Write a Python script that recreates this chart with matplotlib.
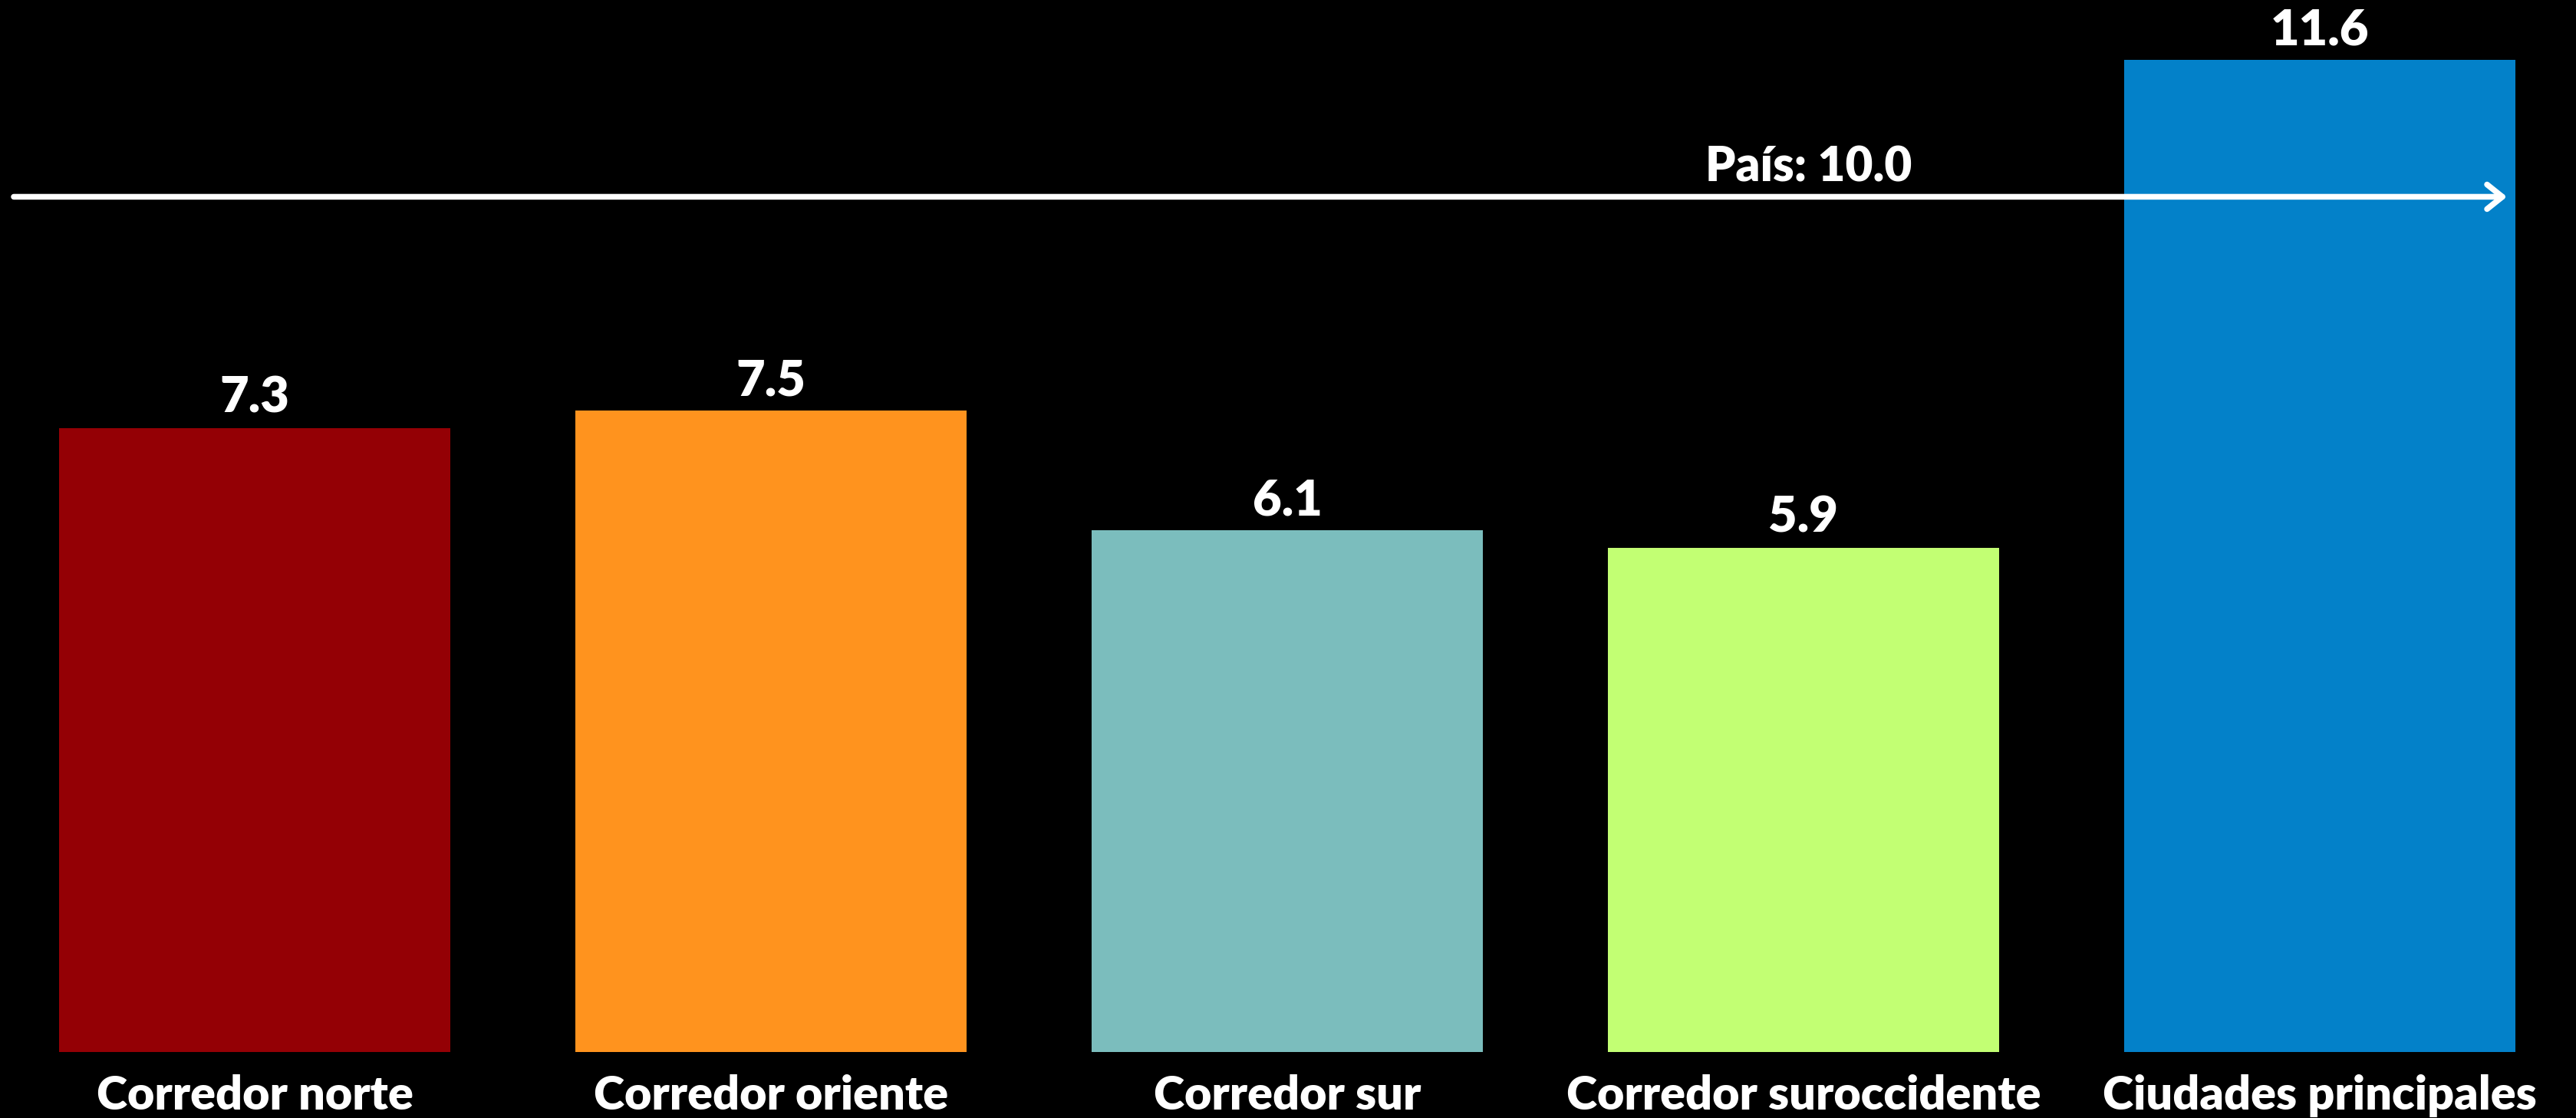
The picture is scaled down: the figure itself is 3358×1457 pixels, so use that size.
import matplotlib
matplotlib.use("Agg")
import matplotlib.pyplot as plt

categories = ["Corredor norte", "Corredor oriente", "Corredor sur",
              "Corredor suroccidente", "Ciudades principales"]
values = [7.3, 7.5, 6.1, 5.9, 11.6]
colors = ["#940005", "#FF931E", "#7BBDBD", "#C2FF73", "#0381C9"]
pais_value = 10.0
pais_label = "País: 10.0"

DPI = 72
fig = plt.figure(figsize=(3358 / DPI, 1457 / DPI), dpi=DPI, facecolor="black")
ax = fig.add_axes([0, 0.0587, 1, 0.9413])
ax.set_facecolor("black")

x = list(range(len(categories)))
ax.bar(x, values, width=0.758, color=colors, zorder=2)
ax.set_xlim(-0.4933, 4.4963)
ax.set_ylim(0, 12.30)
ax.axis("off")

font = ["Lato", "DejaVu Sans"]
weight = "heavy"

for xi, v in zip(x, values):
    ax.annotate(f"{v:.1f}", xy=(xi, v), xytext=(0, 20), textcoords="offset points",
                ha="center", va="baseline", color="white", fontsize=65,
                fontweight=weight, family=font, zorder=4)

for xi, c in zip(x, categories):
    ax.annotate(c, xy=(xi, 0), xytext=(0, -75), textcoords="offset points",
                ha="center", va="baseline", color="white", fontsize=61,
                fontweight=weight, family=font, annotation_clip=False)

# national reference arrow
ax.annotate("", xy=(4.3626, pais_value), xytext=(-0.4666, pais_value),
            arrowprops=dict(arrowstyle="->,head_length=0.5,head_width=0.4", color="white",
                            lw=7.5, shrinkA=0, shrinkB=0, capstyle="round",
                            joinstyle="round", mutation_scale=40), zorder=3)
ax.annotate(pais_label, xy=(3.01, pais_value), xytext=(0, 20), textcoords="offset points",
            ha="center", va="baseline", color="white", fontsize=62,
            fontweight=weight, family=font, zorder=4)

fig.savefig("out.png", dpi=DPI, facecolor="black")
